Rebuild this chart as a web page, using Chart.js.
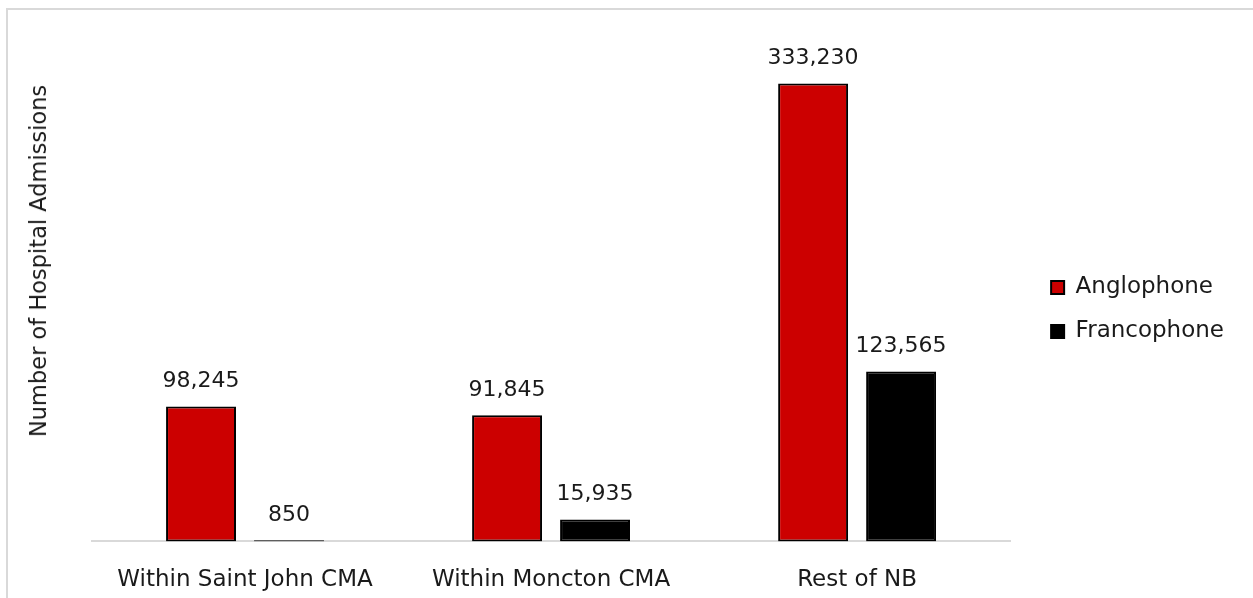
<!DOCTYPE html>
<html>
<head>
<meta charset='utf-8' />
<title>Hospital Admissions</title>
<script src="https://cdn.jsdelivr.net/npm/chart.js"></script>
<style>
body { margin:0; padding:0; background:#fff; overflow:hidden; }
#frame {
  position: absolute;
  left: 6px; top: 8px;
  width: 1400px; height: 800px;
  border: 2px solid #d9d9d9;
}
#wrap {
  position: absolute;
  left: 0; top: 0;
  width: 1253px; height: 598px;
  overflow: hidden;
}
#ytitle {
  position: absolute;
  left: 38px; top: 261px;
  transform: translate(-50%, -50%) rotate(-90deg);
  white-space: nowrap;
  font-family: 'DejaVu Sans', sans-serif;
  font-size: 22.5px;
  color: #1a1a1a;
}
</style>
</head>
<body>
<div id="frame"></div>
<div id="wrap">
  <canvas id="chart" width="1253" height="625"></canvas>
</div>
<div id="ytitle">Number of Hospital Admissions</div>

<script>

// categories / series
const categories = ['Within Saint John CMA', 'Within Moncton CMA', 'Rest of NB'];
const anglophone = [98245, 91845, 333230];
const francophone = [850, 15935, 123565];

const fontFamily = "'DejaVu Sans', sans-serif";
const textColor = '#1a1a1a';

// value labels above bars
const barLabels = {
  id: 'barLabels',
  afterDatasetsDraw(chart) {
    const ctx = chart.ctx;
    ctx.save();
    ctx.font = '22px ' + fontFamily;
    ctx.fillStyle = textColor;
    ctx.textAlign = 'center';
    ctx.textBaseline = 'middle';
    chart.data.datasets.forEach((ds, i) => {
      chart.getDatasetMeta(i).data.forEach((bar, j) => {
        ctx.fillText(ds.data[j].toLocaleString('en-US'), bar.x, bar.y - 25);
      });
    });
    ctx.restore();
  }
};

const chart = new Chart(document.getElementById('chart'), {
  type: 'bar',
  data: {
    labels: categories,
    datasets: [{
      label: 'Anglophone',
      data: anglophone,
      backgroundColor: '#cc0000',
      borderColor: '#000000',
      borderWidth: 2,
      borderSkipped: false
    }, {
      label: 'Francophone',
      data: francophone,
      backgroundColor: '#000000',
      borderColor: '#000000',
      borderWidth: 2,
      borderSkipped: false
    }]
  },
  options: {
    responsive: false,
    animation: false,
    layout: {
      padding: { left: 92, top: 0, right: 19, bottom: 6 }
    },
    datasets: {
      bar: { categoryPercentage: 0.575, barPercentage: 0.795 }
    },
    scales: {
      x: {
        grid: { display: false, drawTicks: false },
        border: { display: true, color: '#d9d9d9', width: 2 },
        ticks: {
          padding: 25,
          color: textColor,
          font: { family: fontFamily, size: 23 }
        }
      },
      y: {
        position: 'right',
        min: 0,
        max: 394000,
        grid: { display: false, drawTicks: false },
        border: { display: false },
        ticks: { display: false },
        afterFit: s => { s.width = 20; }
      }
    },
    plugins: {
      tooltip: { enabled: false },
      legend: {
        position: 'right',
        labels: {
          boxWidth: 13,
          boxHeight: 13,
          padding: 21,
          color: textColor,
          font: { family: fontFamily, size: 23 }
        }
      }
    }
  },
  plugins: [barLabels]
});

</script>
</body>
</html>
